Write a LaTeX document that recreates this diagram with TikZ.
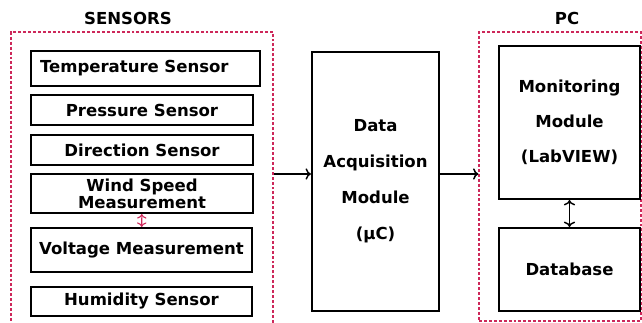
\documentclass[tikz,border=0pt]{standalone}
\usepackage{fontspec}
\setmainfont{DejaVu Sans}
\usetikzlibrary{positioning,arrows.meta}
\definecolor{grpred}{RGB}{205,40,90}

\begin{document}
\begin{tikzpicture}[x=0.75pt,y=-0.75pt,
  font=\fontsize{12.4}{14.9}\selectfont\bfseries,
  blk/.style={draw,line width=1.6pt,minimum width=#1,inner sep=0pt},
  grp/.style={draw=grpred,dash pattern=on 2.2pt off 1.5pt,line width=0.9pt,inner sep=0pt},
  conn/.style={->,line width=1.1pt}]
\useasboundingbox (0,0) rectangle (642,323);

\node (sensorslbl) at (128,18) {SENSORS};
\node (pclbl) at (567,18) {PC};

\node[grp,minimum width=262*0.75pt,minimum height=300*0.75pt] (sensbox) at (142,182) {};
\node[grp,minimum width=162*0.75pt,minimum height=289*0.75pt] (pcbox) at (560,176.5) {};

\node[blk=229*0.75pt,minimum height=35*0.75pt,inner xsep=9*0.75pt,text width=211*0.75pt,align=left] (temp) at (145.5,68.5) {Temperature Sensor};
\node[blk=222*0.75pt,minimum height=30*0.75pt] (pres) at (142,110) {Pressure Sensor};
\node[blk=222*0.75pt,minimum height=30*0.75pt] (dir) at (142,150) {Direction Sensor};
\node[blk=222*0.75pt,minimum height=39*0.75pt,align=center] (wind) at (142,193.5) {Wind Speed\\[-2.1pt]Measurement};
\node[blk=221*0.75pt,minimum height=44*0.75pt] (volt) at (141.5,250) {Voltage Measurement};
\node[blk=221*0.75pt,minimum height=29*0.75pt] (hum) at (141.5,301.5) {Humidity Sensor};

\node[blk=127*0.75pt,minimum height=259*0.75pt,align=center] (daq) at (375.5,181.5)
  {Data\\[12.1pt]Acquisition\\[12.1pt]Module\\[12.1pt](µC)};

\node[blk=141*0.75pt,minimum height=153*0.75pt,align=center] (mon) at (569.5,122.5)
  {Monitoring\\[11.4pt]Module\\[11.4pt](LabVIEW)};
\node[blk=141*0.75pt,minimum height=83*0.75pt] (db) at (569.5,269.5) {Database};

\coordinate (mid) at (0,174);
\draw[conn] (sensbox.east |- mid) -- (daq.west |- mid);
\draw[conn] (daq.east |- mid) -- (pcbox.west |- mid);
\draw[<->,line width=1.1pt] (mon) -- (db);
\draw[<->,draw=grpred,line width=0.8pt] (wind) -- (volt);
\end{tikzpicture}
\end{document}
